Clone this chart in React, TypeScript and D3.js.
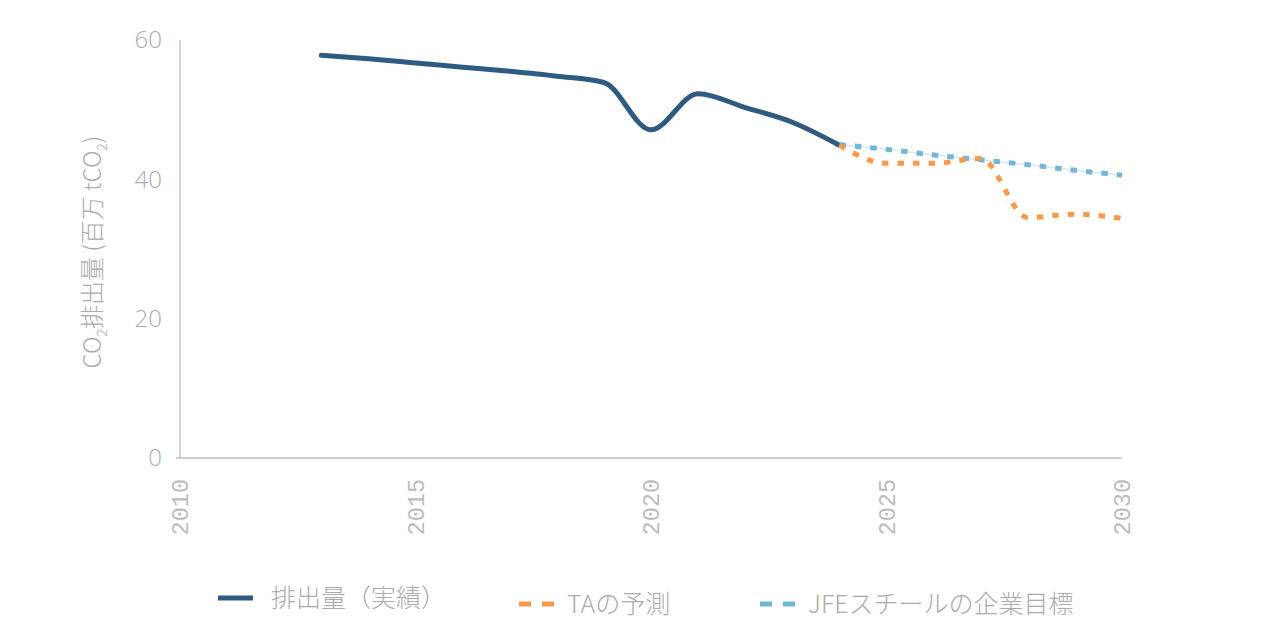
import * as d3 from 'd3';

// Emissions data (million tCO2)
const actualYears = [2013, 2014, 2015, 2016, 2017, 2018, 2019, 2020, 2021, 2022, 2023, 2024];
const actualValues = [57.8, 57.3, 56.7, 56.1, 55.5, 54.8, 53.9, 47.1, 52.3, 50.3, 48.2, 44.9];

const taYears = [2024, 2025, 2026, 2027, 2028, 2029, 2030];
const taValues = [44.9, 42.3, 42.3, 43.0, 34.5, 35.0, 34.4];

const jfeYears = [2024, 2025, 2026, 2027, 2028, 2029, 2030];
const jfeValues = [45.0, 44.3, 43.5, 42.8, 42.1, 41.3, 40.6];

const yTicks = [0, 20, 40, 60];
const xTicks = [2010, 2015, 2020, 2025, 2030];

const legendLabels = ['排出量（実績）', 'TAの予測', 'JFEスチールの企業目標'];

const COLORS = {
  actual: '#2F5B83',
  ta: '#F79A4B',
  jfe: '#72B8D4',
  text: '#ABABAB',
  tick: '#BDBDBD',
  axis: '#BEBEBE',
};

const JP_FONT = '"Noto Sans CJK JP", "Noto Sans", sans-serif';

export default function App() {
  const width = 1271;
  const height = 630;
  const margin = { top: 40, right: 149, bottom: 172, left: 180 };

  const x = d3.scaleLinear().domain([2010, 2030]).range([margin.left, width - margin.right]);
  const y = d3.scaleLinear().domain([0, 60]).range([height - margin.bottom, margin.top]);

  const line = d3
    .line<[number, number]>()
    .x((d) => x(d[0]))
    .y((d) => y(d[1]))
    .curve(d3.curveMonotoneX);

  const zip = (xs: number[], ys: number[]) => xs.map((v, i) => [v, ys[i]] as [number, number]);

  const actualPath = line(zip(actualYears, actualValues)) || '';
  const taPath = line(zip(taYears, taValues)) || '';
  const jfePath = line(zip(jfeYears, jfeValues)) || '';

  const x0 = x.range()[0];
  const x1 = x.range()[1];
  const y0 = y.range()[0];
  const y1 = y.range()[1];

  return (
    <svg
      width={width}
      height={height}
      style={{ position: 'absolute', left: 0, top: 0, background: '#fff' }}
    >
      {/* Axes */}
      <line x1={x0} x2={x0} y1={y1} y2={y0} stroke={COLORS.axis} strokeWidth={1.3} />
      <line x1={x0 - 4} x2={x1} y1={y0} y2={y0} stroke={COLORS.axis} strokeWidth={1.3} />

      {/* Y ticks */}
      {yTicks.map((t) => (
        <text
          key={t}
          x={x0 - 18}
          y={y(t)}
          dy="0.35em"
          textAnchor="end"
          fill={COLORS.text}
          fontSize={24}
          fontFamily='"Open Sans", sans-serif'
          fontWeight={300}
        >
          {t}
        </text>
      ))}

      {/* X ticks, rotated */}
      {xTicks.map((t) => (
        <text
          key={t}
          transform={`translate(${x(t)},${y0 + 21}) rotate(-90)`}
          dy="0.35em"
          textAnchor="end"
          fill={COLORS.tick}
          fontSize={23.5}
          fontFamily='"Liberation Mono", monospace'
        >
          {t}
        </text>
      ))}

      {/* Y axis title */}
      <text
        transform={`translate(101,${(y0 + y1) / 2 + 3}) rotate(-90)`}
        textAnchor="middle"
        fill={COLORS.text}
        fontSize={24}
        fontFamily={JP_FONT}
        fontWeight={300}
      >
        CO<tspan fontSize={14} dy={6}>2</tspan>
        <tspan dy={-6}>排出量 (百万 tCO</tspan>
        <tspan fontSize={14} dy={6}>2</tspan>
        <tspan dy={-6}>)</tspan>
      </text>

      {/* Series */}
      <path d={actualPath} fill="none" stroke={COLORS.actual} strokeWidth={5} strokeLinecap="round" />
      <path d={jfePath} fill="none" stroke={COLORS.jfe} strokeOpacity={0.3} strokeWidth={1.5} />
      <path d={jfePath} fill="none" stroke={COLORS.jfe} strokeWidth={5} strokeDasharray="6.5 9" />
      <path d={taPath} fill="none" stroke={COLORS.ta} strokeWidth={5} strokeDasharray="6.5 9" />

      {/* Legend */}
      <g fontFamily={JP_FONT} fill={COLORS.text} fontSize={25} fontWeight={300}>
        <line x1={218} x2={253} y1={598} y2={598} stroke={COLORS.actual} strokeWidth={5} />
        <text x={271} y={598} dy="0.35em">{legendLabels[0]}</text>

        <line x1={519} x2={554} y1={604} y2={604} stroke={COLORS.ta} strokeWidth={5} strokeDasharray="12 11" />
        <text x={567} y={604} dy="0.35em">{legendLabels[1]}</text>

        <line x1={760} x2={795} y1={604} y2={604} stroke={COLORS.jfe} strokeWidth={5} strokeDasharray="12 11" />
        <text x={808} y={604} dy="0.35em">{legendLabels[2]}</text>
      </g>
    </svg>
  );
}
